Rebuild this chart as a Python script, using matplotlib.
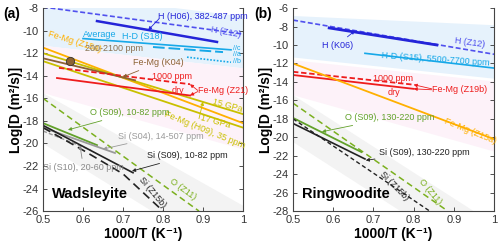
import matplotlib
matplotlib.use('Agg')
import matplotlib.pyplot as plt

plt.rcParams['font.family'] = ['Liberation Sans', 'DejaVu Sans']

# ---- axes ----
x_ticks = [0.5, 0.6, 0.7, 0.8, 0.9, 1.0]
x_ticklabels = ['0.5', '0.6', '0.7', '0.8', '0.9', '1']
a_yticks = list(range(-26, -7, 2))
b_yticks = list(range(-28, -5, 2))

band_x = [0.5, 1.0]

# ---- panel (a) wadsleyite ----
a_blue_top = [-6.5, -8.7]
a_blue_bot = [-11.3, -13.3]
a_pink_top = [-11.3, -13.3]
a_pink_bot = [-15.5, -20.5]
a_gray_top = [-15.5, -25.5]
a_gray_bot = [-20.0, -31.0]

a_h_z12_x = [0.5, 1.0]
a_h_z12_y = [-7.9, -10.3]
a_h_h06_x = [0.635, 0.935]
a_h_h06_y = [-9.15, -11.0]
a_hd_avg_x = [0.6, 0.97]
a_hd_avg_y = [-10.7, -11.7]
a_hd_c_x = [0.775, 0.95]
a_hd_c_y = [-11.45, -11.9]
a_hd_b_x = [0.86, 0.97]
a_hd_b_y = [-12.35, -12.8]
a_z15a_x = [0.5, 1.0]
a_z15a_y = [-11.5, -18.2]
a_h09_15_x = [0.5, 1.0]
a_h09_15_y = [-12.0, -17.4]
a_h09_17_x = [0.5, 1.0]
a_h09_17_y = [-12.7, -18.6]
a_k04_x = [0.5, 0.73]
a_k04_y = [-12.45, -14.4]
a_k04_pt = (0.5675, -12.7)
a_z21_wet_x = [0.54, 0.8675]
a_z21_wet_y = [-13.3, -14.75]
a_z21_dry_x = [0.535, 0.8675]
a_z21_dry_y = [-14.2, -15.75]
a_o_z11_x = [0.5, 0.89]
a_o_z11_y = [-16.0, -26.0]
a_o_s09_x = [0.5, 0.635]
a_o_s09_y = [-18.2, -20.15]
a_si_s04_x = [0.5, 0.68]
a_si_s04_y = [-18.6, -20.85]
a_si_s10_x = [0.5, 0.62]
a_si_s10_y = [-18.9, -20.6]
a_si_s09_x = [0.5, 0.725]
a_si_s09_y = [-18.4, -22.6]
a_si_z15b_x = [0.5, 0.6, 0.7, 0.8]
a_si_z15b_y = [-18.6, -20.6, -22.7, -26.0]

# ---- panel (b) ringwoodite ----
b_blue_top = [-6.8, -7.8]
b_blue_bot = [-11.3, -13.6]
b_pink_top = [-11.6, -13.9]
b_pink_bot = [-15.4, -21.5]
b_gray_top = [-15.4, -29.4]
b_gray_bot = [-20.5, -34.5]

b_h_z12_x = [0.5, 1.0]
b_h_z12_y = [-7.3, -11.0]
b_h_k06_x = [0.59, 0.858]
b_h_k06_y = [-8.15, -10.0]
b_hd_s15_x = [0.679, 1.0]
b_hd_s15_y = [-10.9, -12.5]
b_z19_wet_x = [0.5, 0.8]
b_z19_wet_y = [-12.9, -14.3]
b_z19_dry_x = [0.5, 0.8]
b_z19_dry_y = [-13.25, -14.75]
b_z15a_x = [0.5, 1.0]
b_z15a_y = [-12.0, -20.2]
b_o_z11_x = [0.5, 0.885]
b_o_z11_y = [-16.3, -28.0]
b_o_s09_x = [0.5, 0.67]
b_o_s09_y = [-17.9, -21.6]
b_si_s09_x = [0.5, 0.679]
b_si_s09_y = [-18.5, -22.35]
b_si_z15b_x = [0.5, 0.84]
b_si_z15b_y = [-18.0, -28.0]

# ---- colours ----
c_blue = '#2424d8'
c_blue2 = '#5050ee'
c_cyan = '#16a8e8'
c_orange = '#ffb000'
c_olive = '#c9c000'
c_brown = '#8c6234'
c_red = '#ee1c1c'
c_green = '#7bb01e'
c_green2 = '#62a12a'
c_gray = '#9a9a9a'
c_black = '#222222'
c_bblue = '#e6f2fc'
c_bpink = '#fdf2f9'
c_bgray = '#f3f3f3'

FS = 6.5


def note(ax, txt, xy, xytext, color, fs=FS, ha='left'):
    ax.annotate(txt, xy=xy, xytext=xytext, color=color, fontsize=fs,
                ha=ha, va='center',
                arrowprops=dict(arrowstyle='-|>', color=color, lw=0.6,
                                mutation_scale=5, shrinkA=1, shrinkB=0))


def arrow(ax, xy, xytext, color):
    ax.annotate('', xy=xy, xytext=xytext,
                arrowprops=dict(arrowstyle='-|>', color=color, lw=0.6,
                                mutation_scale=5, shrinkA=0, shrinkB=0))


def style(ax, yticks, ylim):
    ax.set_xlim(0.5, 1.0)
    ax.set_ylim(*ylim)
    ax.set_xticks(x_ticks)
    ax.set_xticklabels(x_ticklabels)
    ax.set_yticks(yticks)
    ax.set_yticklabels([str(t) for t in yticks])
    ax.tick_params(direction='in', length=3, width=0.6, labelsize=8,
                   colors='#333333', top=False, right=True, pad=3)
    for s in ax.spines.values():
        s.set_linewidth(0.8)
        s.set_color('#444444')
    ax.spines['top'].set_visible(False)
    ax.set_xlabel('1000/T (K\u207b\u00b9)', fontsize=10, fontweight='bold', labelpad=1)
    ax.set_ylabel('Log[D (m\u00b2/s)]', fontsize=10, fontweight='bold', labelpad=0)


fig = plt.figure(figsize=(5.0, 2.46), dpi=100)
ax1 = fig.add_axes([0.086, 0.142, 0.400, 0.825])
ax2 = fig.add_axes([0.586, 0.142, 0.402, 0.825])

# ================= panel a =================
ax = ax1
ax.fill_between(band_x, a_blue_bot, a_blue_top, color=c_bblue, lw=0, zorder=0)
ax.fill_between(band_x, a_pink_bot, a_pink_top, color=c_bpink, lw=0, zorder=0)
ax.fill_between(band_x, a_gray_bot, a_gray_top, color=c_bgray, lw=0, zorder=0)

ax.plot(a_h_z12_x, a_h_z12_y, color=c_blue2, lw=1.2, ls=(0, (3, 1.5)))
ax.plot(a_h_h06_x, a_h_h06_y, color=c_blue, lw=1.8)
ax.plot(a_hd_avg_x, a_hd_avg_y, color=c_cyan, lw=1.2)
ax.plot(a_hd_c_x, a_hd_c_y, color=c_cyan, lw=1.4, ls=(0, (6, 2)))
ax.plot(a_hd_b_x, a_hd_b_y, color=c_cyan, lw=1.2, ls=(0, (1, 1)))
ax.plot(a_z15a_x, a_z15a_y, color=c_orange, lw=1.3)
ax.plot(a_h09_15_x, a_h09_15_y, color=c_olive, lw=1.3)
ax.plot(a_h09_17_x, a_h09_17_y, color=c_olive, lw=1.3)
ax.plot(a_k04_x, a_k04_y, color=c_brown, lw=1.3)
ax.plot(*a_k04_pt, marker='o', ms=6, mfc=c_brown, mec='#333333', mew=0.6)
ax.plot(a_z21_wet_x, a_z21_wet_y, color=c_red, lw=1.3, ls=(0, (3, 1.5)))
ax.plot(a_z21_dry_x, a_z21_dry_y, color=c_red, lw=1.3)
ax.plot(a_o_z11_x, a_o_z11_y, color=c_green, lw=1.1, ls=(0, (4, 2.5)))
ax.plot(a_o_s09_x, a_o_s09_y, color=c_green2, lw=1.3)
ax.plot(a_si_s04_x, a_si_s04_y, color=c_gray, lw=1.3)
ax.plot(a_si_s10_x, a_si_s10_y, color=c_gray, lw=1.0, ls=(0, (3, 1.5)))
ax.plot(a_si_s09_x, a_si_s09_y, color=c_black, lw=1.2)
ax.plot(a_si_z15b_x, a_si_z15b_y, color=c_black, lw=1.2, ls=(0, (5, 3)))

ax.text(0.7875, -8.7, 'H (H06), 382-487 ppm', color=c_blue, fontsize=FS, va='center')
arrow(ax, (0.763, -9.95), (0.79, -8.95), c_blue)
ax.text(0.957, -10.15, 'H (Z12)', color=c_blue2, fontsize=FS, ha='center', va='center', rotation=-10)
ax.text(0.6, -10.3, 'Average', color=c_cyan, fontsize=FS, va='center')
ax.text(0.6975, -10.55, 'H-D (S18)', color=c_cyan, fontsize=FS, va='center')
ax.text(0.975, -11.6, '//c', color=c_cyan, fontsize=5, va='center')
ax.text(0.975, -12.15, '//a', color=c_cyan, fontsize=5, va='center')
ax.text(0.975, -12.75, '//b', color=c_cyan, fontsize=5, va='center')
ax.text(0.578, -10.95, 'Fe-Mg (Z15a)', color=c_orange, fontsize=FS, ha='center', va='center', rotation=-17)
ax.text(0.605, -11.55, '200-2100 ppm', color='#8a7050', fontsize=FS, va='center')
note(ax, 'Fe-Mg (K04)', (0.7, -14.1), (0.725, -12.85), c_brown)
ax.text(0.7725, -14.05, '1000 ppm', color=c_red, fontsize=FS, va='center')
ax.text(0.8225, -15.3, 'dry', color=c_red, fontsize=FS, va='center')
ax.text(0.8875, -15.35, 'Fe-Mg (Z21)', color=c_red, fontsize=FS, va='center')
arrow(ax, (0.8675, -14.75), (0.887, -15.3), c_red)
arrow(ax, (0.8675, -15.75), (0.887, -15.4), c_red)
ax.text(0.96, -16.6, '15 GPa', color=c_olive, fontsize=FS, ha='center', va='center', rotation=-15)
ax.text(0.93, -18.1, '17 GPa', color=c_olive, fontsize=FS, ha='center', va='center', rotation=-15)
ax.text(0.905, -18.8, 'Fe-Mg (H09), 35 ppm', color=c_olive, fontsize=FS, ha='center', va='center', rotation=-22)
arrow(ax, (0.9, -16.3), (0.89, -17.8), c_olive)
note(ax, 'O (S09), 10-82 ppm', (0.5625, -18.8), (0.6175, -17.3), c_green2)
ax.text(0.85, -24.1, 'O (Z11)', color=c_green, fontsize=FS, ha='center', va='center', rotation=-36)
note(ax, 'Si (S04), 14-507 ppm', (0.65, -20.5), (0.6875, -19.35), c_gray)
note(ax, 'Si (S09), 10-82 ppm', (0.7225, -22.45), (0.76, -21.1), c_black)
ax.text(0.7725, -24.3, 'Si (Z15b)', color=c_black, fontsize=FS, ha='center', va='center', rotation=-50)
note(ax, 'Si (S10), 20-60 ppm', (0.5925, -20.2), (0.5, -22.1), '#888888')
ax.text(0.523, -24.5, 'Wadsleyite', fontsize=10.5, fontweight='bold', va='center')
style(ax, a_yticks, (-26, -8))
fig.text(0.006, 0.945, '(a)', fontsize=10, fontweight='bold', va='center')

# ================= panel b =================
ax = ax2
ax.fill_between(band_x, b_blue_bot, b_blue_top, color=c_bblue, lw=0, zorder=0)
ax.fill_between(band_x, b_pink_bot, b_pink_top, color=c_bpink, lw=0, zorder=0)
ax.fill_between(band_x, b_gray_bot, b_gray_top, color=c_bgray, lw=0, zorder=0)

ax.plot(b_h_z12_x, b_h_z12_y, color=c_blue2, lw=1.2, ls=(0, (3, 1.5)))
ax.plot(b_h_k06_x, b_h_k06_y, color=c_blue, lw=2.0)
ax.plot(b_hd_s15_x, b_hd_s15_y, color=c_cyan, lw=1.2)
ax.plot(b_z19_wet_x, b_z19_wet_y, color=c_red, lw=1.3, ls=(0, (3, 1.5)))
ax.plot(b_z19_dry_x, b_z19_dry_y, color=c_red, lw=1.3)
ax.plot(b_z15a_x, b_z15a_y, color=c_orange, lw=1.3)
ax.plot(b_o_z11_x, b_o_z11_y, color=c_green, lw=1.1, ls=(0, (4, 2.5)))
ax.plot(b_o_s09_x, b_o_s09_y, color=c_green2, lw=1.3)
ax.plot(b_si_s09_x, b_si_s09_y, color=c_black, lw=1.2)
ax.plot(b_si_z15b_x, b_si_z15b_y, color=c_black, lw=1.0, ls=(0, (3, 2)))

note(ax, 'H (K06)', (0.654, -8.45), (0.572, -10.0), c_blue)
ax.text(0.94, -9.7, 'H (Z12)', color=c_blue2, fontsize=FS, ha='center', va='center', rotation=-8)
ax.text(0.855, -11.55, 'H-D (S15), 5500-7700 ppm', color=c_cyan, fontsize=FS, ha='center', va='center', rotation=-4)
ax.text(0.7, -13.6, '1000 ppm', color=c_red, fontsize=FS, va='center')
ax.text(0.736, -15.1, 'dry', color=c_red, fontsize=FS, va='center')
ax.text(0.846, -14.8, 'Fe-Mg (Z19b)', color=c_red, fontsize=FS, va='center')
arrow(ax, (0.8, -14.3), (0.845, -14.75), c_red)
arrow(ax, (0.8, -14.75), (0.845, -14.85), c_red)
ax.text(0.94, -19.3, 'Fe-Mg (Z15a)', color=c_orange, fontsize=FS, ha='center', va='center', rotation=-22)
note(ax, 'O (S09), 130-220 ppm', (0.572, -19.4), (0.629, -17.9), c_green2)
note(ax, 'Si (S09), 130-220 ppm', (0.681, -22.5), (0.714, -21.6), c_black)
ax.text(0.751, -25.3, 'Si (Z15b)', color=c_black, fontsize=FS, ha='center', va='center', rotation=-45)
ax.text(0.84, -25.9, 'O (Z11)', color=c_green, fontsize=FS, ha='center', va='center', rotation=-50)
ax.text(0.523, -26.2, 'Ringwoodite', fontsize=10.5, fontweight='bold', va='center')
style(ax, b_yticks, (-28, -6))
fig.text(0.508, 0.945, '(b)', fontsize=10, fontweight='bold', va='center')

fig.savefig('out.png', dpi=100)
